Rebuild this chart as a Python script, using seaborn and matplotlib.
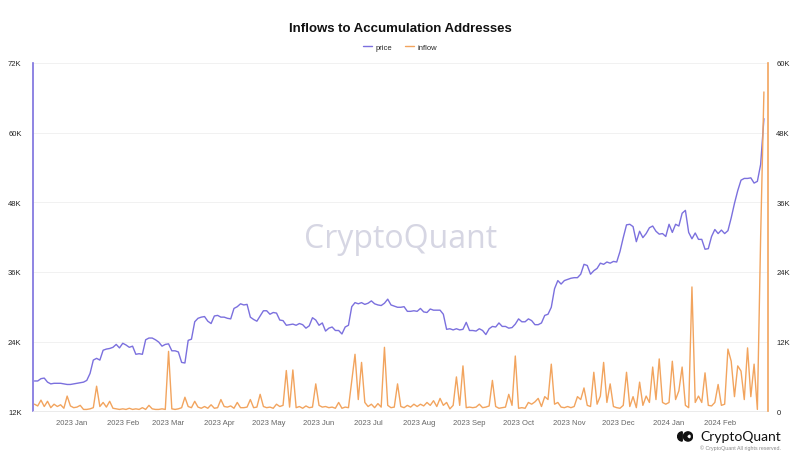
import matplotlib
matplotlib.use("Agg")
import matplotlib.pyplot as plt
import matplotlib.dates as mdates
import pandas as pd
import seaborn as sns
from matplotlib.lines import Line2D
from matplotlib.patches import Wedge, Circle
from matplotlib.ticker import FuncFormatter

# one sample every 2 days, starting 2022-12-09 (values in thousands)
start_date = "2022-12-09"

price_k = [
    17.2, 17.2, 17.6, 17.7, 17.0, 16.7, 16.8, 16.8, 16.8, 16.7, 16.6, 16.6,              # Dec 22
    16.7, 16.8, 16.9, 17.0, 17.3, 18.5, 20.8, 21.1, 20.8, 22.5, 22.7, 22.8, 23.0, 23.5, 22.9,  # Jan 23
    23.7, 23.4, 23.0, 23.2, 21.8, 21.9, 21.8, 24.3, 24.6, 24.6, 24.3, 23.9, 23.2, 23.5,  # Feb
    23.6, 22.4, 22.4, 22.2, 20.4, 20.3, 24.2, 24.4, 27.4, 28.0, 28.2, 28.3, 27.5, 27.1, 28.4, 28.5,  # Mar
    28.2, 28.2, 28.0, 27.9, 29.7, 30.0, 30.5, 30.3, 30.4, 28.2, 27.8, 27.5, 28.4, 29.3, 29.3,  # Apr
    28.7, 29.0, 28.9, 27.7, 27.6, 26.8, 26.9, 27.0, 26.8, 27.1, 26.9, 26.3, 26.7, 28.1, 27.7,  # May
    26.8, 27.2, 25.8, 26.3, 26.5, 25.9, 25.9, 25.3, 26.5, 26.8, 30.0, 30.7, 30.5, 30.7, 30.4,  # Jun
    30.6, 31.0, 30.5, 30.3, 30.2, 30.6, 31.3, 30.3, 30.1, 29.9, 29.9, 30.0, 29.2, 29.2, 29.3, 29.2,  # Jul
    29.7, 29.1, 29.0, 29.6, 29.4, 29.4, 29.4, 28.7, 26.1, 26.2, 26.0, 26.2, 26.0, 26.1, 27.3,  # Aug
    25.9, 25.9, 25.8, 26.2, 25.9, 25.2, 26.2, 26.6, 26.5, 27.2, 26.6, 26.6, 26.3, 26.4, 27.0,  # Sep
    27.9, 27.4, 27.4, 27.9, 27.6, 26.9, 26.9, 27.2, 28.5, 28.7, 29.9, 33.1, 34.5, 33.9, 34.5, 34.7,  # Oct
    34.9, 35.0, 35.0, 35.6, 37.3, 37.1, 35.6, 36.2, 36.6, 37.5, 37.3, 37.7, 37.5, 37.8, 37.7,  # Nov
    39.5, 41.9, 44.1, 44.2, 43.8, 41.2, 43.0, 41.9, 42.6, 43.6, 43.9, 43.0, 42.5, 42.6, 42.1,  # Dec
    44.2, 42.8, 44.2, 43.9, 46.1, 46.6, 42.8, 41.7, 42.7, 41.6, 41.6, 39.9, 40.0, 42.1, 43.3, 42.6,  # Jan 24
    43.2, 42.6, 43.1, 45.3, 47.8, 50.0, 51.8, 52.1, 52.1, 52.2, 51.3, 51.6, 54.5, 62.4,  # Feb 24
]

inflow_k = [
    1.2, 0.9, 1.9, 0.8, 1.7, 0.6, 1.2, 0.8, 1.1, 0.5, 2.6, 0.9,                          # Dec 22
    0.6, 0.7, 1.0, 0.3, 0.3, 0.4, 0.6, 4.3, 0.8, 1.5, 0.7, 1.7, 0.5, 0.4, 0.3,            # Jan 23
    0.4, 0.3, 0.5, 0.3, 0.4, 0.3, 0.6, 0.3, 1.0, 0.4, 0.3, 0.3, 0.4, 0.3,                 # Feb
    10.3, 0.4, 0.3, 0.4, 0.6, 2.4, 0.8, 0.6, 1.7, 0.7, 0.5, 0.8, 0.5, 1.1, 0.5, 0.6,      # Mar
    2.0, 0.8, 0.7, 0.9, 0.5, 1.5, 0.6, 0.6, 0.7, 2.0, 0.6, 0.7, 2.9, 0.8, 0.6,            # Apr
    0.7, 0.5, 1.2, 0.8, 1.0, 7.0, 0.7, 7.1, 0.6, 0.8, 0.5, 0.9, 0.6, 0.7, 4.7,            # May
    1.0, 0.7, 0.8, 0.6, 0.7, 0.5, 1.5, 0.5, 0.7, 0.6, 5.2, 9.8, 2.0, 8.4, 1.5,            # Jun
    0.8, 1.2, 0.6, 1.3, 0.7, 11.0, 1.0, 0.6, 0.7, 4.7, 0.8, 0.6, 1.0, 0.7, 1.2, 0.8,      # Jul
    1.2, 0.9, 1.5, 1.0, 1.8, 0.8, 2.2, 1.0, 1.5, 0.4, 1.0, 5.9, 1.0, 7.8, 0.6,            # Aug
    0.7, 0.6, 0.7, 1.2, 0.6, 0.7, 0.9, 5.3, 0.8, 0.5, 0.6, 0.7, 2.9, 1.0, 9.5,            # Sep
    0.5, 0.6, 0.5, 1.5, 1.2, 1.6, 2.2, 0.8, 2.5, 2.0, 8.1, 1.2, 1.5, 0.7, 0.6, 0.8,       # Oct
    0.6, 0.8, 2.5, 2.0, 4.0, 1.0, 0.8, 6.7, 1.2, 2.6, 8.4, 1.5, 4.7, 0.8, 0.6,            # Nov
    0.5, 1.0, 6.7, 0.8, 2.5, 0.6, 5.0, 1.0, 2.6, 1.5, 7.6, 2.0, 9.0, 1.5, 1.2,            # Dec
    1.5, 8.6, 2.0, 3.5, 7.6, 1.0, 0.6, 21.4, 1.5, 2.6, 1.5, 6.6, 1.0, 0.9, 1.5, 4.6,      # Jan 24
    1.0, 1.2, 10.7, 8.6, 2.5, 7.8, 6.9, 2.0, 10.9, 2.5, 8.1, 0.3, 30.0, 55.0,             # Feb 24
]

month_ticks = pd.date_range("2023-01-01", "2024-02-01", freq="MS")

PURPLE = "#7b70de"
ORANGE = "#f2a45e"

dates = pd.date_range(start_date, periods=len(price_k), freq="2D")
df = pd.DataFrame({
    "date": dates,
    "price": [p * 1000 for p in price_k],
    "inflow": [v * 1000 for v in inflow_k],
})

sns.set_style("white")
plt.rcParams["font.family"] = ["Liberation Sans", "DejaVu Sans"]

fig = plt.figure(figsize=(8, 4.6), dpi=100)
ax = fig.add_axes([0.041, 0.104, 0.919, 0.757])
ax2 = ax.twinx()

sns.lineplot(data=df, x="date", y="price", ax=ax, color=PURPLE, linewidth=1.0)
sns.lineplot(data=df, x="date", y="inflow", ax=ax2, color=ORANGE, linewidth=1.0)

# axes ranges and ticks
ax.set_xlim(pd.Timestamp("2022-12-08"), pd.Timestamp("2024-03-01 12:00"))
ax.set_ylim(12000, 72000)
ax.set_yticks(range(12000, 72001, 12000))
ax2.set_ylim(0, 60000)
ax2.set_yticks(range(0, 60001, 12000))

kfmt = FuncFormatter(lambda v, _: "0" if v == 0 else f"{v / 1000:.0f}K")
ax.yaxis.set_major_formatter(kfmt)
ax2.yaxis.set_major_formatter(kfmt)

ax.set_xticks(month_ticks)
ax.xaxis.set_major_formatter(mdates.DateFormatter("%Y %b"))

for a in (ax, ax2):
    a.set_xlabel("")
    a.set_ylabel("")
    a.tick_params(length=0)
ax.tick_params(axis="y", labelsize=5.5, labelcolor="#222222", pad=8)
ax2.tick_params(axis="y", labelsize=5.5, labelcolor="#222222", pad=6)
ax.tick_params(axis="x", labelsize=5.5, labelcolor="#666666", pad=6)

ax.yaxis.grid(True, color="#efefef", linewidth=0.6)
ax.set_axisbelow(True)

# coloured axis lines like the original
ax.spines["left"].set_color(PURPLE)
ax.spines["left"].set_linewidth(1.2)
ax.spines["bottom"].set_color("#e8e8e8")
ax.spines["bottom"].set_linewidth(0.6)
ax.spines["top"].set_visible(False)
ax.spines["right"].set_visible(False)
ax2.spines["right"].set_color(ORANGE)
ax2.spines["right"].set_linewidth(1.2)
for s in ("left", "top", "bottom"):
    ax2.spines[s].set_visible(False)

# watermark
ax.text(0.5, 0.495, "CryptoQuant", transform=ax.transAxes, ha="center", va="center",
        fontsize=23, color="#d6d6e3", family=["Open Sans", "DejaVu Sans"], zorder=0)

fig.text(0.5, 0.937, "Inflows to Accumulation Addresses", ha="center", va="center",
         fontsize=9.5, fontweight="bold", color="#111111")

handles = [Line2D([], [], color=PURPLE, lw=1.0), Line2D([], [], color=ORANGE, lw=1.0)]
fig.legend(handles, ["price", "inflow"], loc="center", bbox_to_anchor=(0.5, 0.895),
           ncol=2, frameon=False, fontsize=5.5, handlelength=1.2, columnspacing=1.6,
           handletextpad=0.5)

# logo, bottom right
fig.text(0.976, 0.049, "CryptoQuant", ha="right", va="center", fontsize=10,
         color="#111111", family=["Lato", "DejaVu Sans"])
fig.text(0.976, 0.025, "\u00a9 CryptoQuant All rights reserved.", ha="right", va="center",
         fontsize=3.8, color="#888888")
icon = fig.add_axes([0.846, 0.038, 0.021, 0.022])
icon.set_aspect("equal")
icon.add_patch(Wedge((0.0, 0.0), 1.0, 90, 270, color="#111111"))
icon.add_patch(Circle((1.25, 0.0), 1.0, color="#111111"))
icon.add_patch(Wedge((1.25, 0.0), 0.45, -40, 40, color="white"))
icon.set_xlim(-1.1, 2.4)
icon.set_ylim(-1.1, 1.1)
icon.axis("off")

fig.savefig("out.png", dpi=100)
